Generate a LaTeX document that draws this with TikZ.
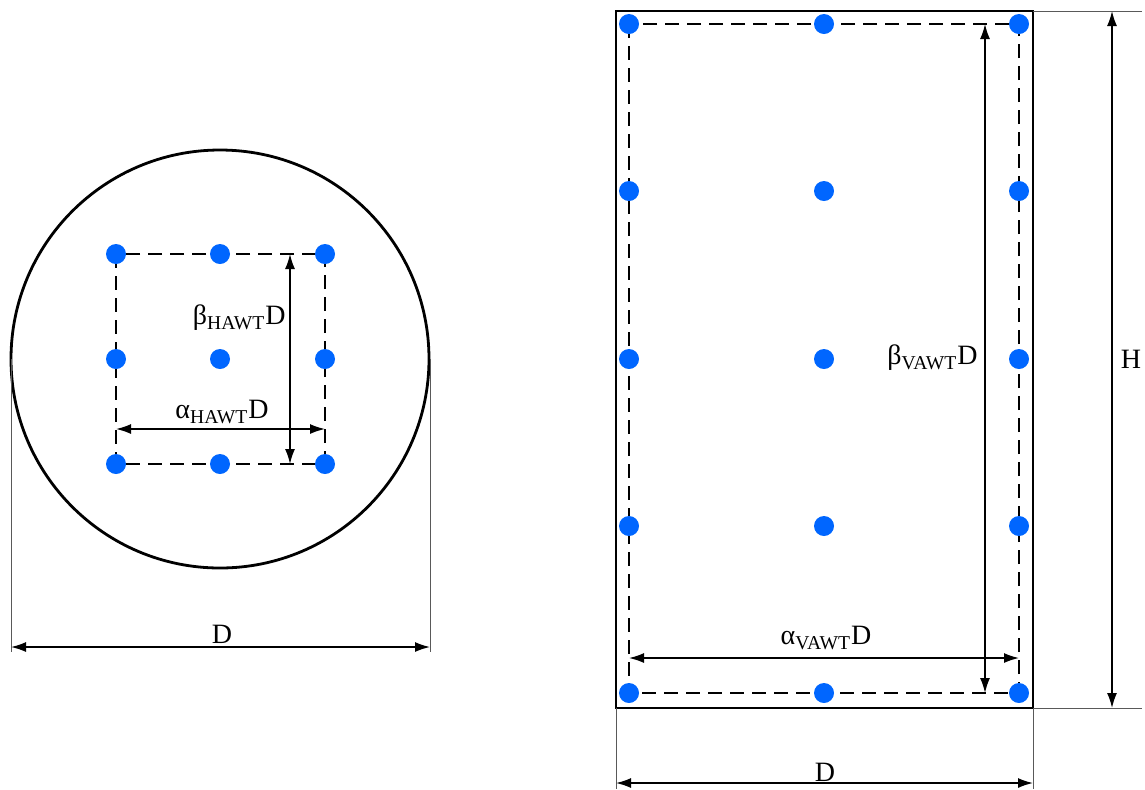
\documentclass[tikz,border=0pt]{standalone}
\usepackage{fontspec}
\setmainfont{Liberation Serif}
\usetikzlibrary{arrows,arrows.meta}
\definecolor{dotblue}{RGB}{0,102,255}

\begin{document}
\begin{tikzpicture}[>={Latex[length=7.5pt,width=5pt]},x=0.5pt,y=-0.5pt,
    outline/.style={line width=1.4pt},
    dashline/.style={line width=1pt,dash pattern=on 7pt off 4pt},
    dim/.style={<->,line width=0.75pt},
    ext/.style={line width=0.5pt,black!65},
    dot/.style={circle,fill=dotblue,inner sep=0pt,minimum size=10pt},
    lbl/.style={font=\fontsize{14}{17}\selectfont,inner sep=1pt}]

    \useasboundingbox (0,0) rectangle (1145,789);

    % HAWT: rotor disc seen from the front
    \coordinate (hc) at (220,359);
    \coordinate (hl) at (11,359);
    \coordinate (hr) at (430,359);
    \draw[outline] (hc) circle (209);

    % measurement points (3 x 3)
    \draw[dashline] (116,254) rectangle (325,464);
    \foreach \i/\x in {1/116,2/220,3/325}
        \foreach \j/\y in {1/254,2/359,3/464}
            \node[dot] (h\i\j) at (\x,\y) {};

    % Labels
    \coordinate (hbt) at (290,254);
    \coordinate (hbb) at (290,464);
    \draw[dim] (hbt) -- (hbb);
    \node[lbl,anchor=east] (hbeta) at (288,318) {β\textsubscript{HAWT}D};
    \coordinate (hal) at (116,429);
    \coordinate (har) at (325,429);
    \draw[dim] (hal) -- (har);
    \node[lbl] (halpha) at (222,412) {α\textsubscript{HAWT}D};

    % rotor diameter
    \coordinate (hdl) at (11,652);
    \coordinate (hdr) at (430,652);
    \draw[ext] (hl) -- (hdl);
    \draw[ext] (hr) -- (hdr);
    \draw[dim] (11,647) -- (430,647);
    \node[lbl] (hd) at (222,634) {D};

    % VAWT: swept area seen from the front
    \coordinate (vtl) at (616,11);
    \coordinate (vbr) at (1033,708);
    \draw[dashline] (629,24) rectangle (1019,693);
    \draw[outline] (vtl) rectangle (vbr);

    % measurement points (3 x 5)
    \foreach \i/\x in {1/629,2/824,3/1019}
        \foreach \j/\y in {1/24,2/191,3/359,4/526,5/693}
            \node[dot] (v\i\j) at (\x,\y) {};

    % Labels
    \coordinate (vbt) at (985,24);
    \coordinate (vbb) at (985,693);
    \draw[dim] (vbt) -- (vbb);
    \node[lbl,anchor=east] (vbeta) at (980,358) {β\textsubscript{VAWT}D};
    \coordinate (val) at (629,658);
    \coordinate (var) at (1019,658);
    \draw[dim] (val) -- (var);
    \node[lbl] (valpha) at (826,638) {α\textsubscript{VAWT}D};

    % height
    \coordinate (vht) at (1142,11);
    \coordinate (vhb) at (1142,708);
    \draw[ext] (1033,11) -- (vht);
    \draw[ext] (vbr) -- (vhb);
    \draw[dim] (1112,11) -- (1112,708);
    \node[lbl] (vh) at (1131,359) {H};

    % diameter
    \coordinate (vdl) at (616,789);
    \coordinate (vdr) at (1033,789);
    \draw[ext] (616,708) -- (vdl);
    \draw[ext] (vbr) -- (vdr);
    \draw[dim] (616,783) -- (1033,783);
    \node[lbl] (vd) at (825,772) {D};

\end{tikzpicture}
\end{document}
